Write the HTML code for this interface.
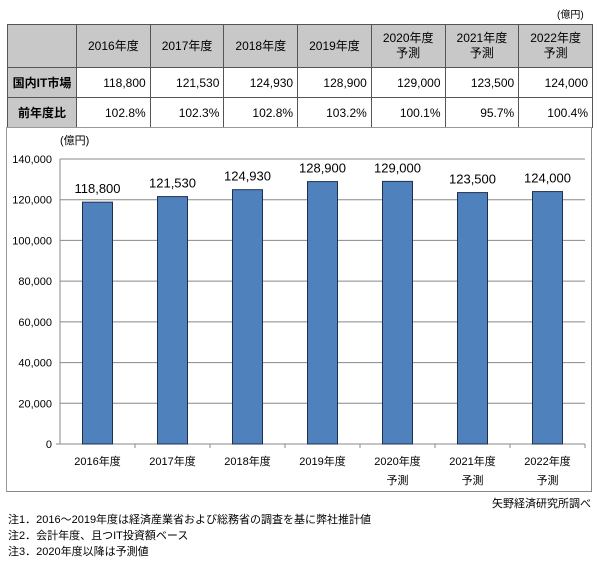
<!DOCTYPE html>
<html><head><meta charset="utf-8"><style>
body{margin:0;width:600px;height:575px;background:#fff;font-family:"Liberation Sans","Noto Sans CJK JP",sans-serif;position:relative;overflow:hidden;color:#000}
table{position:absolute;left:7px;top:24px;width:586px;border-collapse:collapse;font-size:12px}
td{border:1px solid #555;height:29px;text-align:right;padding:0 4px}
tr.h td{background:#c8c8c8;text-align:center;height:42px;line-height:15px}
td.l{background:#c8c8c8;text-align:center;font-weight:bold;width:60px}
#box{position:absolute;left:6px;top:127px;width:584px;height:363px;border:1px solid #999;border-right-color:#888;border-bottom-color:#888}
.t{position:absolute;font-size:11px}
</style></head><body>
<div class="t" style="left:557px;top:6px;font-size:10px">(億円)</div>
<table>
<tr class="h"><td></td><td>2016年度</td><td>2017年度</td><td>2018年度</td><td>2019年度</td><td>2020年度<br>予測</td><td>2021年度<br>予測</td><td>2022年度<br>予測</td></tr>
<tr><td class="l">国内IT市場</td><td>118,800</td><td>121,530</td><td>124,930</td><td>128,900</td><td>129,000</td><td>123,500</td><td>124,000</td></tr>
<tr><td class="l">前年度比</td><td>102.8%</td><td>102.3%</td><td>102.8%</td><td>103.2%</td><td>100.1%</td><td>95.7%</td><td>100.4%</td></tr>
</table>
<div id="box"></div>
<svg id="chart" width="600" height="575" style="position:absolute;left:0;top:0"></svg>
<div class="t" style="right:9px;top:495px">矢野経済研究所調べ</div>
<div class="t" style="left:8px;top:511px">注1．2016～2019年度は経済産業省および総務省の調査を基に弊社推計値</div>
<div class="t" style="left:8px;top:527px">注2．会計年度、且つIT投資額ベース</div>
<div class="t" style="left:8px;top:543px">注3．2020年度以降は予測値</div>
<script>
const categories=["2016年度","2017年度","2018年度","2019年度","2020年度","2021年度","2022年度"];
const subLabels=["","","","","予測","予測","予測"];
const values=[118800,121530,124930,128900,129000,123500,124000];
const valueLabels=["118,800","121,530","124,930","128,900","129,000","123,500","124,000"];
const ticks=[0,20000,40000,60000,80000,100000,120000,140000];
const tickLabels=["0","20,000","40,000","60,000","80,000","100,000","120,000","140,000"];
const svg=document.getElementById('chart');const NS='http://www.w3.org/2000/svg';
const X0=60,X1=585,Y0=444,Y1=159,MAX=140000;
const bw=(X1-X0)/categories.length;
const y=v=>Y0-(v/MAX)*(Y0-Y1);
const x=i=>X0+bw*i+bw/2;
function mk(t,a,txt){const e=document.createElementNS(NS,t);for(const k in a)e.setAttribute(k,a[k]);if(txt!=null)e.textContent=txt;svg.appendChild(e);return e;}
ticks.forEach((t,i)=>{
if(t>0){const g=mk('line',{x1:X0,x2:X1,y1:y(t),y2:y(t),stroke:'#888','stroke-width':1});

}
const l=mk('text',{x:X0-8,y:y(t)+4,'text-anchor':'end','font-size':11,'font-family':'Liberation Sans, sans-serif'},tickLabels[i]);


});
const u=mk('text',{x:60,y:144,'font-size':11,'font-family':'Liberation Sans, Noto Sans CJK JP, sans-serif'},'(億円)');


const ax=mk('line',{x1:X0,x2:X0,y1:Y1,y2:Y0,stroke:'#888'});


const xa=mk('line',{x1:X0-4,x2:X1,y1:Y0,y2:Y0,stroke:'#888'});


values.forEach((v,i)=>{
const b=mk('rect',{x:x(i)-15,y:y(v),width:30,height:Y0-y(v),fill:'#4f81bd',stroke:'#1f2f4f','stroke-width':1});


const vl=mk('text',{x:x(i),y:y(v)-9,'text-anchor':'middle','font-size':13,'font-family':'Liberation Sans, sans-serif'},valueLabels[i]);


const tk=mk('line',{x1:X0+bw*(i+1),x2:X0+bw*(i+1),y1:Y0,y2:Y0+4,stroke:'#888'});


const cl=mk('text',{x:x(i),y:465,'text-anchor':'middle','font-size':11,'font-family':'Liberation Sans, Noto Sans CJK JP, sans-serif'},categories[i]);


if(subLabels[i]){const s=mk('text',{x:x(i),y:484,'text-anchor':'middle','font-size':11,'font-family':'Liberation Sans, Noto Sans CJK JP, sans-serif'},subLabels[i]);

}
});
</script>
</body></html>
